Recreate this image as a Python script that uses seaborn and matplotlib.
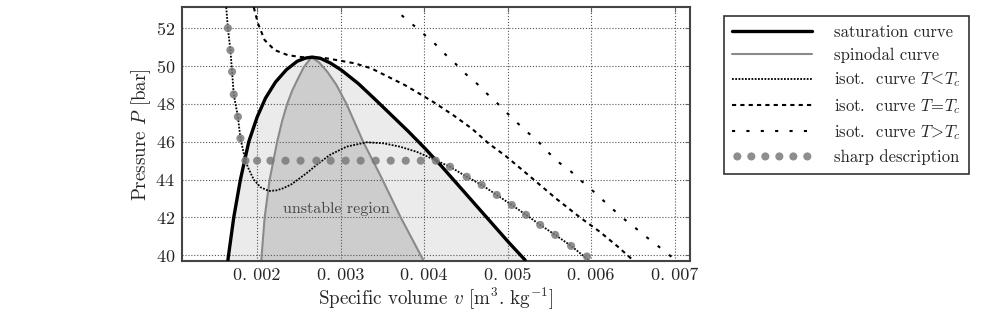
import numpy as np
import matplotlib
matplotlib.use("Agg")
import matplotlib.pyplot as plt
import seaborn as sns

# saturation curve (v in m3/kg, P in bar)
sat_v = [0.00165, 0.00172, 0.00180, 0.00190, 0.00200, 0.00210, 0.00222, 0.00235, 0.00248, 0.00258,
         0.00266, 0.00276, 0.00288, 0.00301, 0.00321, 0.00341, 0.00361, 0.00381, 0.00401, 0.00421,
         0.00441, 0.00461, 0.00481, 0.00501, 0.00521]
sat_P = [39.75, 42.0, 44.0, 46.0, 47.3, 48.3, 49.15, 49.8, 50.25, 50.42,
         50.47, 50.4, 50.15, 49.78, 49.08, 48.25, 47.4, 46.55, 45.65, 44.7,
         43.7, 42.7, 41.7, 40.7, 39.75]

# spinodal curve
spin_v = [0.00205, 0.00209, 0.00215, 0.00224, 0.00230, 0.00236, 0.00242, 0.00248, 0.00256, 0.00265,
          0.00274, 0.00284, 0.00295, 0.00307, 0.00327, 0.00349, 0.00372, 0.00399]
spin_P = [39.75, 42.0, 44.0, 46.0, 47.1, 48.0, 48.7, 49.25, 49.95, 50.45,
          50.2, 49.7, 49.0, 48.0, 46.0, 44.1, 42.0, 39.75]

# isotherm T < Tc
sub_v = [0.00163, 0.00165, 0.00168, 0.00170, 0.00172, 0.00177, 0.00180, 0.00186, 0.00190, 0.00196,
         0.00204, 0.00214, 0.00223, 0.00231, 0.00241, 0.00251, 0.00261, 0.00271, 0.00287, 0.00307,
         0.00331, 0.00351, 0.00371, 0.00391, 0.00413, 0.00431, 0.00451, 0.00469, 0.00487, 0.00505,
         0.00522, 0.00539, 0.00557, 0.00576, 0.00597]
sub_P = [53.1, 52.0, 50.84, 49.7, 48.5, 47.32, 46.18, 45.0, 44.55, 44.0,
         43.6, 43.4, 43.43, 43.54, 43.75, 44.07, 44.4, 44.77, 45.3, 45.74,
         45.97, 45.92, 45.74, 45.47, 45.04, 44.68, 44.15, 43.72, 43.19, 42.66,
         42.14, 41.61, 41.08, 40.5, 39.75]

# isotherm T = Tc
crit_v = [0.00196, 0.00201, 0.00209, 0.00221, 0.00237, 0.00253, 0.00265, 0.00281, 0.00297, 0.00317,
          0.00337, 0.00357, 0.00377, 0.00397, 0.00411, 0.00435, 0.00457, 0.00477, 0.00499, 0.00527,
          0.00558, 0.00588, 0.00610, 0.00632, 0.00650]
crit_P = [53.1, 52.25, 51.37, 50.84, 50.57, 50.47, 50.45, 50.42, 50.3, 50.14,
          49.87, 49.43, 48.99, 48.47, 48.1, 47.4, 46.7, 45.92, 45.2, 44.16,
          43.0, 41.96, 41.26, 40.46, 39.75]

# isotherm T > Tc
sup_v = [0.00373, 0.00387, 0.00400, 0.00413, 0.00425, 0.00438, 0.00450, 0.00463, 0.00475, 0.00487,
         0.00499, 0.00511, 0.00523, 0.00537, 0.00548, 0.00560, 0.00574, 0.00587, 0.00600, 0.00612,
         0.00624, 0.00637, 0.00650, 0.00663, 0.00677, 0.00690, 0.00701]
sup_P = [52.68, 52.16, 51.67, 51.17, 50.63, 50.1, 49.57, 49.08, 48.55, 48.06,
         47.53, 47.02, 46.53, 46.0, 45.47, 44.95, 44.5, 43.98, 43.49, 43.0,
         42.52, 42.0, 41.56, 41.08, 40.6, 40.15, 39.75]

# sharp description (Maxwell construction) points
sharp_v = [0.00165, 0.00168, 0.00170, 0.00172, 0.00177, 0.00180, 0.00186, 0.00200, 0.00216, 0.00234,
           0.00252, 0.00271, 0.00288, 0.00306, 0.00324, 0.00342, 0.00360, 0.00378, 0.00396, 0.00414,
           0.00431, 0.00451, 0.00469, 0.00487, 0.00505, 0.00522, 0.00539, 0.00557, 0.00576, 0.00595]
sharp_P = [52.0, 50.84, 49.7, 48.5, 47.32, 46.18, 45.0, 45.0, 45.0, 45.0,
           45.0, 45.0, 45.0, 45.0, 45.0, 45.0, 45.0, 45.0, 45.0, 45.0,
           44.68, 44.15, 43.72, 43.19, 42.66, 42.14, 41.61, 41.08, 40.5, 39.94]

xticks = [0.002, 0.003, 0.004, 0.005, 0.006, 0.007]
xtick_labels = ["0. 002", "0. 003", "0. 004", "0. 005", "0. 006", "0. 007"]
yticks = [40, 42, 44, 46, 48, 50, 52]

labels = ["saturation curve", "spinodal curve",
          r"isot.  curve $T\!<\!T_c$", r"isot.  curve $T\!=\!T_c$",
          r"isot.  curve $T\!>\!T_c$", "sharp description"]

sns.set_theme(style="white")
plt.rcParams["font.family"] = "serif"
plt.rcParams["font.serif"] = ["cmr10", "DejaVu Serif"]
plt.rcParams["mathtext.fontset"] = "cm"
plt.rcParams["axes.formatter.use_mathtext"] = True

fig = plt.figure(figsize=(9.82, 3.13), dpi=100)
ax = fig.add_axes([0.1853, 0.166, 0.517, 0.8107])

ymin = 39.7
ax.fill_between(sat_v, sat_P, ymin, color="#ebebeb", lw=0, zorder=0.5)
ax.fill_between(spin_v, spin_P, ymin, color="#cdcdcd", lw=0, zorder=0.6)

sns.lineplot(x=sat_v, y=sat_P, ax=ax, color="black", lw=2.4, sort=False, estimator=None,
             label=labels[0], zorder=3)
sns.lineplot(x=spin_v, y=spin_P, ax=ax, color="#8a8a8a", lw=1.5, sort=False, estimator=None,
             label=labels[1], zorder=2.5)
sns.lineplot(x=sub_v, y=sub_P, ax=ax, color="black", lw=1.3, sort=False, estimator=None,
             linestyle=(0, (1.0, 0.8)), label=labels[2], zorder=3)
sns.lineplot(x=crit_v, y=crit_P, ax=ax, color="black", lw=1.5, sort=False, estimator=None,
             linestyle=(0, (2.0, 2.0)), label=labels[3], zorder=3)
sns.lineplot(x=sup_v, y=sup_P, ax=ax, color="black", lw=1.5, sort=False, estimator=None,
             linestyle=(0, (1.5, 5.4)), label=labels[4], zorder=3)
sns.scatterplot(x=sharp_v, y=sharp_P, ax=ax, color="#7a7a7a", s=34, alpha=0.85,
                edgecolor="none", label=labels[5], zorder=4)

ax.text(0.002945, 42.48, "unstable region", ha="center", va="center",
        fontsize=11.5, color="#444444")

ax.set_xlim(0.0011, 0.00718)
ax.set_ylim(ymin, 53.1)
ax.set_xticks(xticks)
ax.set_xticklabels(xtick_labels)
ax.set_yticks(yticks)
ax.tick_params(direction="in", top=True, right=True, length=3.5, width=0.8,
               color="#666666", labelsize=13, pad=5)
ax.grid(True, linestyle=":", color="#555555", lw=0.8)
ax.set_axisbelow("line")
for sp in ax.spines.values():
    sp.set_color("#444444")
    sp.set_linewidth(1.5)

ax.set_xlabel(r"Specific volume $v$ [m$^3$. kg$^{-1}$]", fontsize=13.7, labelpad=1)
ax.set_ylabel(r"Pressure $P$ [bar]", fontsize=13.7, labelpad=2)

handles, lbls = ax.get_legend_handles_labels()
if ax.get_legend() is not None:
    ax.get_legend().remove()
leg = ax.legend(handles, lbls, loc="upper left", bbox_to_anchor=(724 / 982, 1 - 16 / 313),
                bbox_transform=fig.transFigure, borderaxespad=0, frameon=True, fancybox=False,
                fontsize=12, handlelength=4.8, handletextpad=1.3, labelspacing=0.45,
                borderpad=0.5, scatterpoints=6, scatteryoffsets=[0.5])
leg.get_frame().set_edgecolor("#333333")
leg.get_frame().set_linewidth(1.2)
leg.get_frame().set_alpha(1)

fig.savefig("out.png", dpi=100)
